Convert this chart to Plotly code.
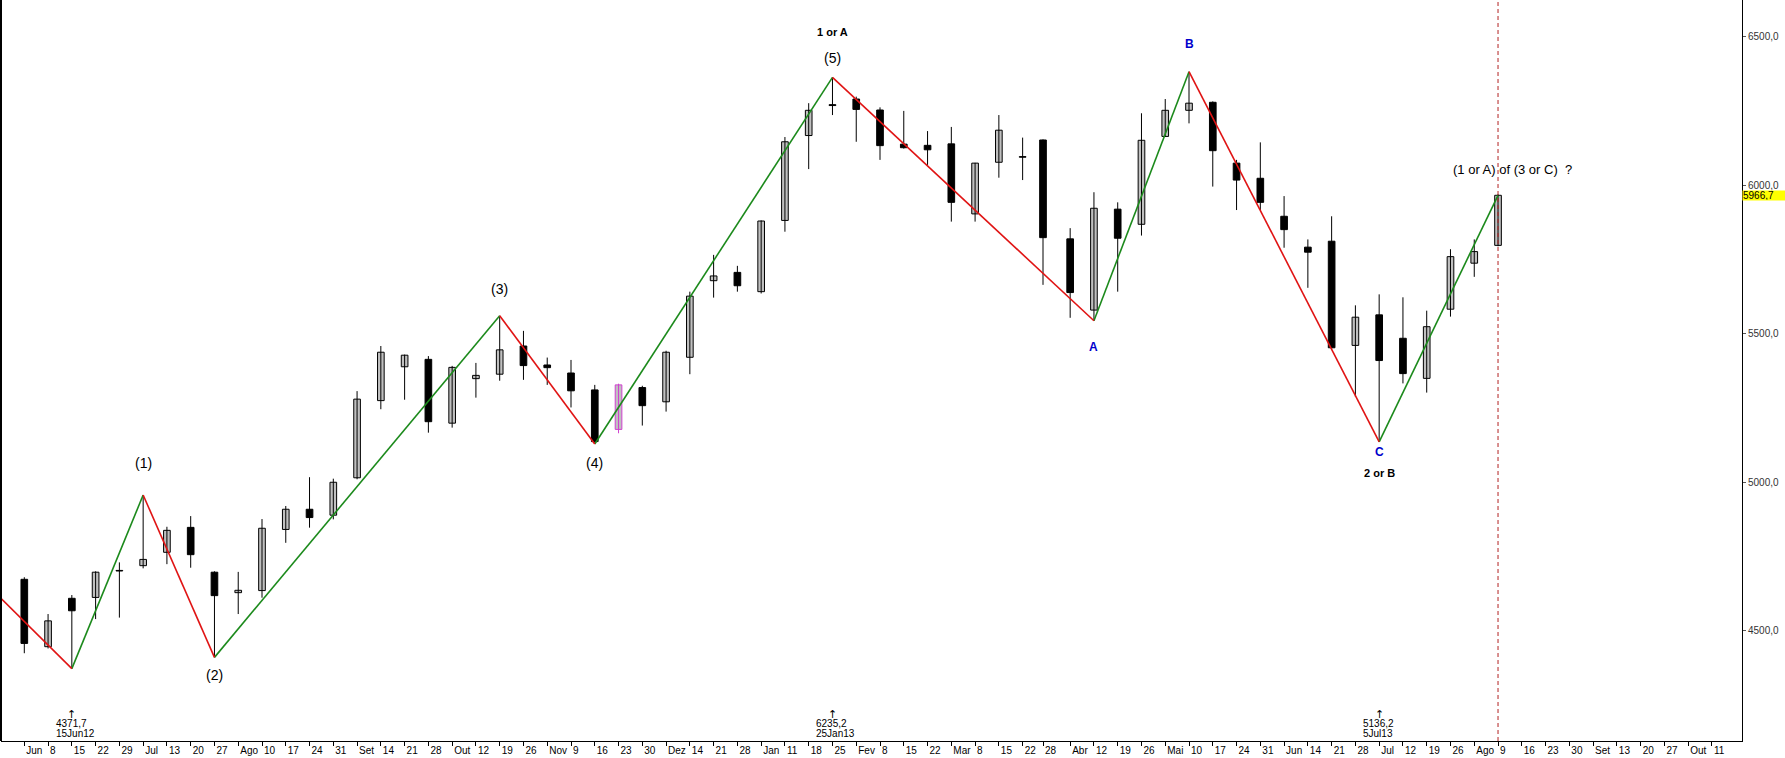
import plotly.graph_objects as go

# ---------------- data ----------------
DATES = ["2012-06-01","2012-06-08","2012-06-15","2012-06-22","2012-06-29","2012-07-06","2012-07-13",
         "2012-07-20","2012-07-27","2012-08-03","2012-08-10","2012-08-17","2012-08-24","2012-08-31",
         "2012-09-07","2012-09-14","2012-09-21","2012-09-28","2012-10-05","2012-10-12","2012-10-19",
         "2012-10-26","2012-11-02","2012-11-09","2012-11-16","2012-11-23","2012-11-30","2012-12-07",
         "2012-12-14","2012-12-21","2012-12-28","2013-01-04","2013-01-11","2013-01-18","2013-01-25",
         "2013-02-01","2013-02-08","2013-02-15","2013-02-22","2013-03-01","2013-03-08","2013-03-15",
         "2013-03-22","2013-03-28","2013-04-05","2013-04-12","2013-04-19","2013-04-26","2013-05-03",
         "2013-05-10","2013-05-17","2013-05-24","2013-05-31","2013-06-07","2013-06-14","2013-06-21",
         "2013-06-28","2013-07-05","2013-07-12","2013-07-19","2013-07-26","2013-08-02","2013-08-09"]
OPEN  = [4673,4446,4609,4612,4703,4719,4764,4848,4697,4628,4635,4841,4909,4889,5015,5275,5389,5414,5199,5349,
         5364,5459,5395,5368,5311,5178,5319,5271,5421,5679,5707,5642,5882,6168,6272,6291,6254,6139,6135,6140,
         5904,6078,6097,6153,5820,5580,5920,5869,6165,6253,6280,6075,6024,5896,5792,5812,5461,5564,5485,5350,
         5583,5738,5798]
HIGH  = [4680,4556,4620,4700,4730,4957,4850,4886,4700,4698,4876,4920,5017,5012,5307,5459,5430,5425,5392,5402,
         5561,5510,5420,5412,5328,5332,5325,5443,5642,5766,5729,5882,6163,6277,6364,6299,6263,6251,6183,6197,
         6076,6237,6161,6155,5856,5977,5943,6243,6291,6383,6283,6086,6145,5964,5818,5896,5596,5633,5623,5578,
         5785,5818,5970]
LOW   = [4424,4440,4372,4539,4544,4710,4724,4712,4410,4556,4611,4796,4847,4875,5010,5246,5278,5167,5184,5285,
         5342,5345,5328,5252,5129,5165,5191,5238,5364,5622,5642,5636,5844,6055,6237,6147,6086,6124,6069,5878,
         5878,6026,6018,5665,5554,5544,5642,5831,6163,6209,5996,5917,5917,5790,5655,5450,5288,5136,5333,5302,
         5558,5692,5795]
CLOSE = [4457,4533,4567,4697,4701,4740,4838,4756,4618,4636,4845,4909,4881,5000,5280,5438,5428,5204,5387,5360,
         5446,5393,5386,5308,5137,5328,5258,5438,5627,5695,5662,5880,6147,6253,6269,6256,6134,6127,6120,5943,
         6075,6186,6095,5824,5639,5923,5822,6152,6253,6277,6117,6018,5943,5851,5775,5453,5556,5410,5366,5524,
         5760,5777,5966.7]
HIGHLIGHT_DATE = "2012-11-23"

FUTURE_WEEKS = ["2013-08-16","2013-08-23","2013-08-30","2013-09-06","2013-09-13","2013-09-20",
                "2013-09-27","2013-10-04","2013-10-11"]
TICK_LABELS = ["Jun","8","15","22","29","Jul","13","20","27","Ago","10","17","24","31","Set","14","21","28",
               "Out","12","19","26","Nov","9","16","23","30","Dez","14","21","28",
               "Jan","11","18","25","Fev","8","15","22","Mar","8","15","22","28","Abr","12","19","26",
               "Mai","10","17","24","31","Jun","14","21","28","Jul","12","19","26","Ago","9",
               "16","23","30","Set","13","20","27","Out","11"]

Y_TICKS = [4500, 5000, 5500, 6000, 6500]
Y_TICK_LABELS = ["4500,0", "5000,0", "5500,0", "6000,0", "6500,0"]

ZZ_DATES  = ["2012-05-18","2012-06-15","2012-07-06","2012-07-27","2012-10-19","2012-11-16",
             "2013-01-25","2013-04-12","2013-05-10","2013-07-05","2013-08-09"]
ZZ_VALUES = [4690, 4372, 4957, 4410, 5561, 5129, 6364, 5544, 6383, 5136, 5966.7]

PIVOT_NOTES_DATES  = ["2012-06-15", "2013-01-25", "2013-07-05"]
PIVOT_NOTES_VALUES = ["4371,7", "6235,2", "5136,2"]
PIVOT_NOTES_LABELS = ["15Jun12", "25Jan13", "5Jul13"]

LAST_DATE = "2013-08-09"
LAST_VALUE = 5966.7
LAST_LABEL = "5966,7"

# ---------------- figure ----------------
GREEN = "#1c8a1c"
RED = "#e01414"
GRAY = "#c0c0c0"
MAGENTA = "#d040d0"
WEEK_MS = 7 * 24 * 3600 * 1000

fig = go.Figure()

# wicks
wx, wy, hx, hy = [], [], [], []
for d, h, l in zip(DATES, HIGH, LOW):
    if d == HIGHLIGHT_DATE:
        hx += [d, d, None]; hy += [l, h, None]
    else:
        wx += [d, d, None]; wy += [l, h, None]
fig.add_trace(go.Scatter(x=wx, y=wy, mode="lines", line=dict(color="black", width=1), hoverinfo="skip"))
fig.add_trace(go.Scatter(x=hx, y=hy, mode="lines", line=dict(color=MAGENTA, width=1), hoverinfo="skip"))

# bodies
base = [min(o, c) for o, c in zip(OPEN, CLOSE)]
height = [max(abs(c - o), 2) for o, c in zip(OPEN, CLOSE)]
fill = [GRAY if c >= o else "black" for o, c in zip(OPEN, CLOSE)]
edge = [MAGENTA if d == HIGHLIGHT_DATE else "black" for d in DATES]
fig.add_trace(go.Bar(x=DATES, y=height, base=base, width=0.28 * WEEK_MS,
                     marker=dict(color=fill, line=dict(color=edge, width=1)), hoverinfo="skip"))

# zigzag
gx, gy, rx, ry = [], [], [], []
for i in range(len(ZZ_DATES) - 1):
    seg_x = [ZZ_DATES[i], ZZ_DATES[i + 1], None]
    seg_y = [ZZ_VALUES[i], ZZ_VALUES[i + 1], None]
    if ZZ_VALUES[i + 1] > ZZ_VALUES[i]:
        gx += seg_x; gy += seg_y
    else:
        rx += seg_x; ry += seg_y
fig.add_trace(go.Scatter(x=gx, y=gy, mode="lines", line=dict(color=GREEN, width=1.6), hoverinfo="skip"))
fig.add_trace(go.Scatter(x=rx, y=ry, mode="lines", line=dict(color=RED, width=1.6), hoverinfo="skip"))

ann = []
def txt(x, y, t, size=14, color="black", bold=False, xshift=0, xanchor="center", family="Liberation Sans"):
    ann.append(dict(x=x, y=y, xref="x", yref="y", text=("<b>%s</b>" % t) if bold else t,
                    showarrow=False, xanchor=xanchor, yanchor="middle", xshift=xshift,
                    font=dict(size=size, color=color, family=family)))

txt("2012-07-06", 5065, "(1)")
txt("2012-07-27", 4352, "(2)")
txt("2012-10-19", 5650, "(3)")
txt("2012-11-16", 5064, "(4)")
txt("2013-01-25", 6428, "(5)")
txt("2013-01-25", 6516, "1 or A", size=11, bold=True)
txt("2013-05-10", 6475, "B", size=12, color="#0000cc", bold=True)
txt("2013-04-12", 5457, "A", size=12, color="#0000cc", bold=True)
txt("2013-07-05", 5103, "C", size=12, color="#0000cc", bold=True)
txt("2013-07-05", 5032, "2 or B", size=11, bold=True)
txt(LAST_DATE, 6054, "(1 or A) of (3 or C)\u00a0\u00a0?", size=13, xshift=14)

for d, v, lab in zip(PIVOT_NOTES_DATES, PIVOT_NOTES_VALUES, PIVOT_NOTES_LABELS):
    txt(d, 4219, "\u2191", size=11, color="black", family="DejaVu Sans")
    txt(d, 4186, v, size=10, xanchor="left", xshift=-18)
    txt(d, 4152, lab, size=10, xanchor="left", xshift=-18)

ann.append(dict(x=1, xref="paper", y=LAST_VALUE, yref="y", text=LAST_LABEL, showarrow=False,
                xanchor="left", yanchor="middle", bgcolor="#ffff00", width=43, height=9,
                align="left", borderpad=0, font=dict(size=10, color="black", family="Liberation Sans")))

shapes = [
    dict(type="line", xref="x", yref="paper", x0=LAST_DATE, x1=LAST_DATE, y0=0, y1=1,
         line=dict(color="#b22222", width=1, dash="4px,3px")),
    dict(type="line", xref="paper", yref="paper", x0=0, x1=0, y0=0, y1=1,
         line=dict(color="black", width=2)),
]

fig.update_layout(
    width=1785, height=758, margin=dict(l=1, r=43, t=0, b=17),
    paper_bgcolor="white", plot_bgcolor="white", showlegend=False, barmode="overlay",
    font=dict(family="Liberation Sans", size=10, color="black"),
    annotations=ann, shapes=shapes,
)
fig.update_xaxes(type="date", range=["2012-05-25 03:20", "2013-10-19 20:24"],
                 tickmode="array", tickvals=DATES + FUTURE_WEEKS, ticktext=TICK_LABELS,
                 showline=True, linecolor="black", linewidth=1, ticks="outside", ticklen=4,
                 tickcolor="black", showgrid=False, zeroline=False, tickangle=0,
                 ticklabelposition="outside right", ticklabelshift=1,
                 tickfont=dict(size=10, family="Liberation Sans"))
fig.update_yaxes(side="right", range=[4128.3, 6624.6], tickmode="array", tickvals=Y_TICKS,
                 ticktext=Y_TICK_LABELS, showline=True, linecolor="black", linewidth=1,
                 ticks="outside", ticklen=3, tickcolor="#555555", showgrid=False, zeroline=False,
                 tickfont=dict(size=10, family="Liberation Sans", color="#333333"))

fig.write_html("out.html", config={"displayModeBar": False},
               post_script="document.body.style.margin='0';document.body.style.overflow='hidden';")
